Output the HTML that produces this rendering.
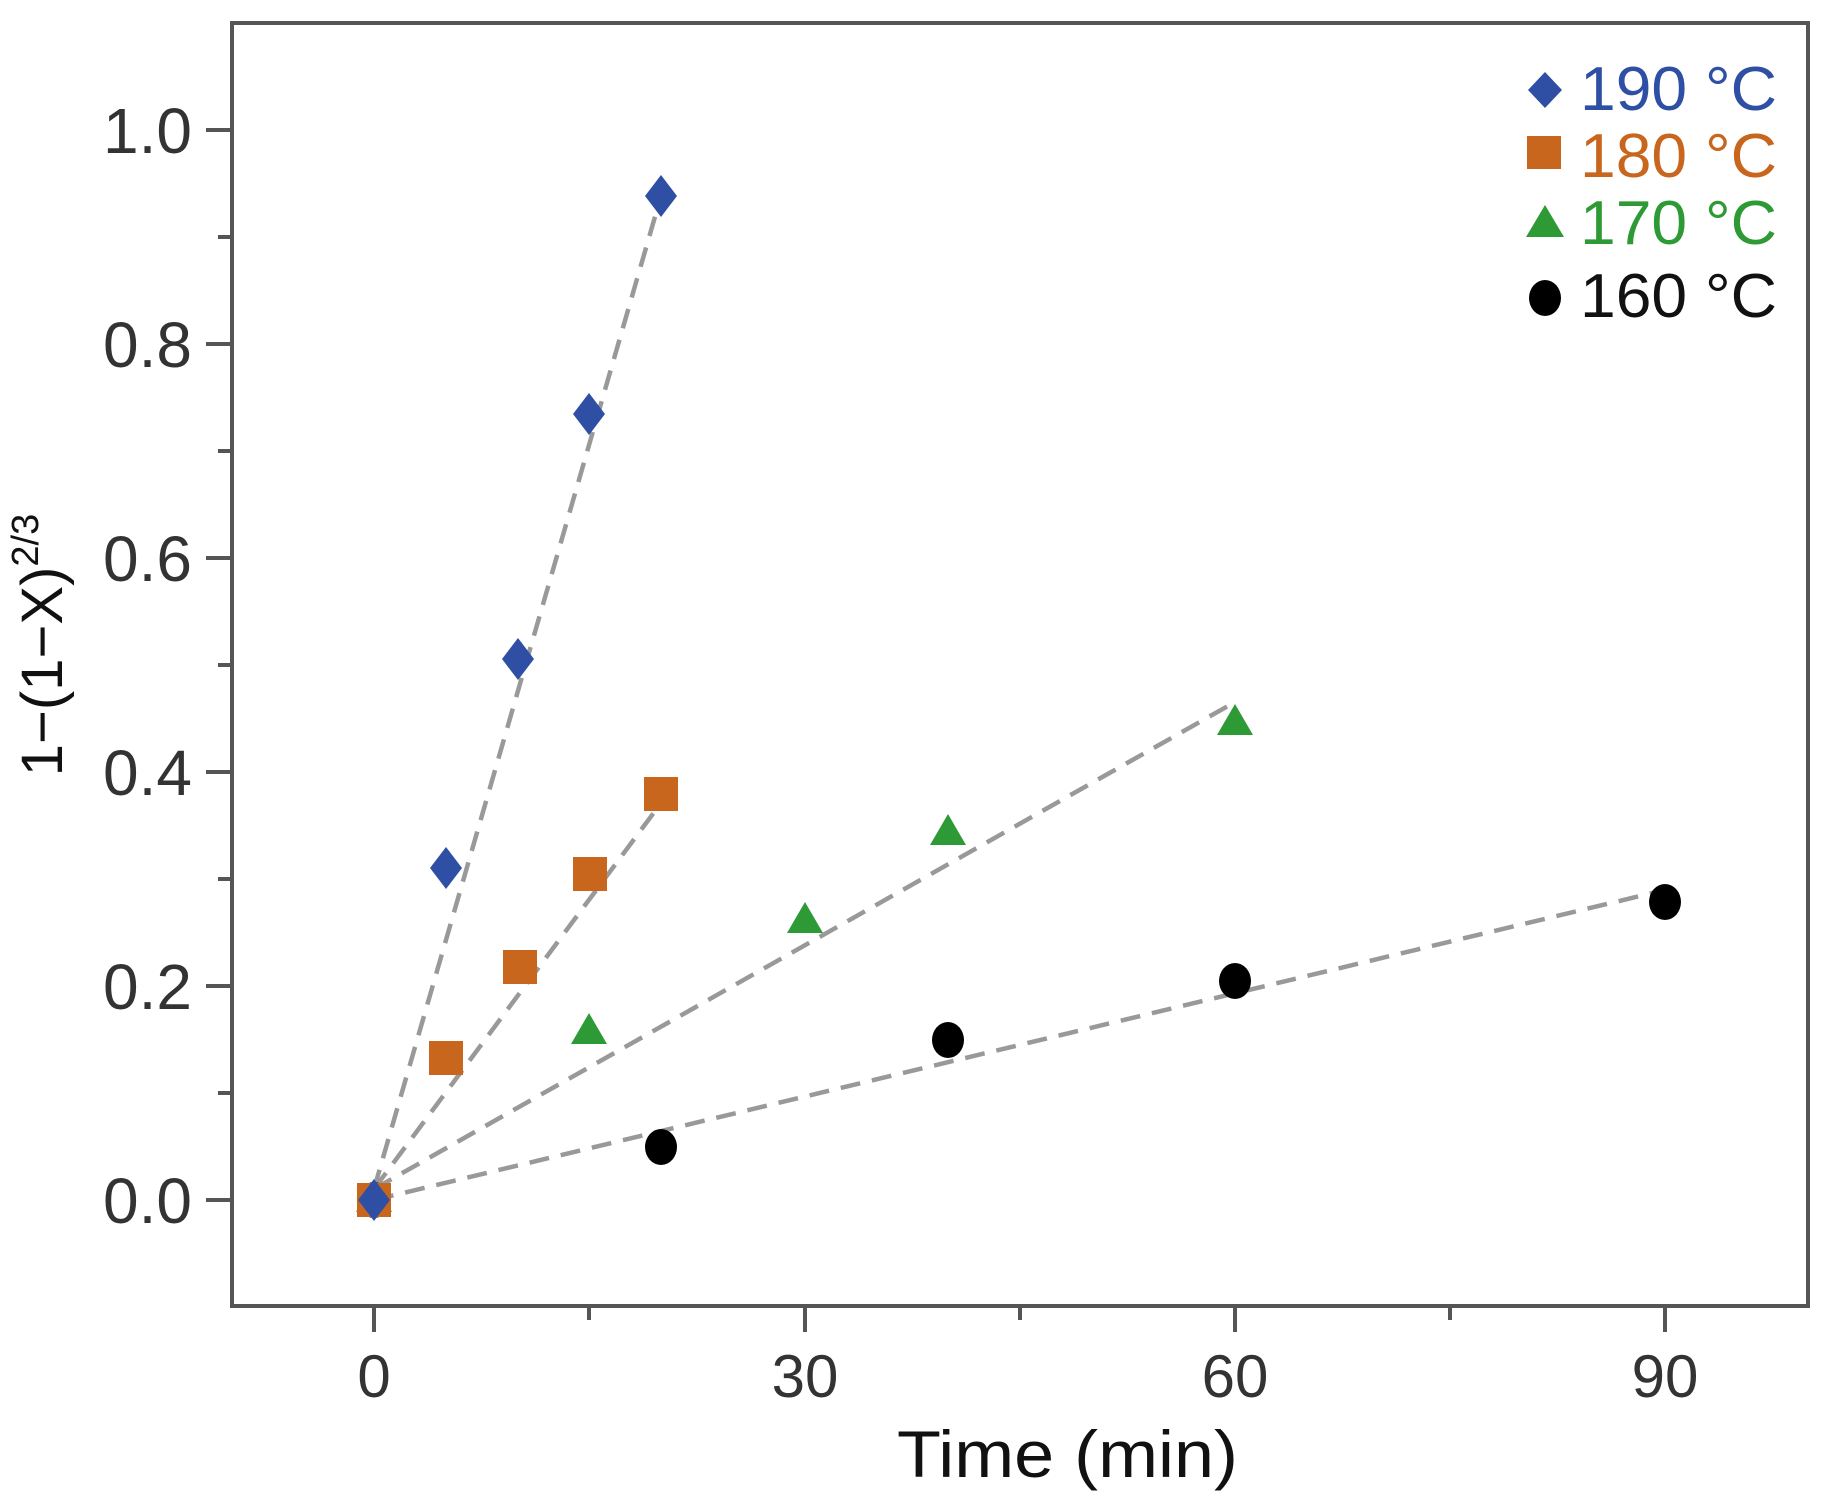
<!DOCTYPE html>
<html><head><meta charset="utf-8"><style>html,body{margin:0;padding:0;background:#fff}svg{display:block}</style></head>
<body>
<svg width="1829" height="1508" viewBox="0 0 1829 1508" xmlns="http://www.w3.org/2000/svg" font-family="Liberation Sans, Arial, sans-serif">
<rect width="1829" height="1508" fill="#fff"/>
<rect x="232" y="23" width="1576" height="1283" fill="none" stroke="#555" stroke-width="4"/>
<g stroke="#555" stroke-width="4">
<line x1="206" y1="130" x2="232" y2="130"/><line x1="206" y1="344" x2="232" y2="344"/><line x1="206" y1="558" x2="232" y2="558"/><line x1="206" y1="772" x2="232" y2="772"/><line x1="206" y1="986" x2="232" y2="986"/><line x1="206" y1="1200" x2="232" y2="1200"/>
<line x1="218" y1="237" x2="232" y2="237"/><line x1="218" y1="451" x2="232" y2="451"/><line x1="218" y1="665" x2="232" y2="665"/><line x1="218" y1="879" x2="232" y2="879"/><line x1="218" y1="1093" x2="232" y2="1093"/>
<line x1="374" y1="1306" x2="374" y2="1332"/><line x1="805" y1="1306" x2="805" y2="1332"/><line x1="1235" y1="1306" x2="1235" y2="1332"/><line x1="1665" y1="1306" x2="1665" y2="1332"/>
<line x1="589" y1="1306" x2="589" y2="1320"/><line x1="1020" y1="1306" x2="1020" y2="1320"/><line x1="1450" y1="1306" x2="1450" y2="1320"/>
</g>
<g fill="#333" font-size="64" text-anchor="end">
<text x="192" y="153">1.0</text><text x="192" y="367">0.8</text><text x="192" y="581">0.6</text><text x="192" y="795">0.4</text><text x="192" y="1009">0.2</text><text x="192" y="1223">0.0</text>
</g>
<g fill="#333" font-size="60" text-anchor="middle">
<text x="374" y="1397">0</text><text x="805" y="1397">30</text><text x="1235" y="1397">60</text><text x="1665" y="1397">90</text>
</g>
<text x="897" y="1477" font-size="66" fill="#111" textLength="341" lengthAdjust="spacingAndGlyphs">Time (min)</text>
<text transform="translate(62,645) rotate(-90)" text-anchor="middle" font-size="58" fill="#111">1−(1−X)<tspan font-size="38" dy="-24">2/3</tspan></text>
<g stroke="#999" stroke-width="4.5" stroke-dasharray="20,12" fill="none">
<line x1="374" y1="1189" x2="661" y2="196"/>
<line x1="374" y1="1189" x2="661" y2="803"/>
<line x1="374" y1="1189" x2="1235" y2="702"/>
<line x1="374" y1="1200" x2="1665" y2="890"/>
</g>
<g fill="#000">
<ellipse cx="374" cy="1200" rx="16" ry="18"/><ellipse cx="661" cy="1147" rx="16" ry="18"/><ellipse cx="948" cy="1040" rx="16" ry="18"/><ellipse cx="1235" cy="981" rx="16" ry="18"/><ellipse cx="1665" cy="902" rx="16" ry="18"/>
</g>
<g fill="#2e9a35">
<path d="M374 1181 l18 31 h-36z"/><path d="M589 1013 l18 31 h-36z"/><path d="M805 902 l18 31 h-36z"/><path d="M948 814 l18 31 h-36z"/><path d="M1235 704 l18 31 h-36z"/>
</g>
<g fill="#c8661e">
<rect x="357" y="1183" width="34" height="34"/><rect x="429" y="1041" width="34" height="34"/><rect x="503" y="950" width="34" height="34"/><rect x="573" y="857" width="34" height="34"/><rect x="644" y="777" width="34" height="34"/>
</g>
<g fill="#2e4fa3">
<path d="M374 1179 l16 21 l-16 21 l-16 -21z"/><path d="M446 847 l16 21 l-16 21 l-16 -21z"/><path d="M518 638 l16 21 l-16 21 l-16 -21z"/><path d="M589 393 l16 21 l-16 21 l-16 -21z"/><path d="M661 175 l16 21 l-16 21 l-16 -21z"/>
</g>
<path d="M1545 72 l17 18 l-17 18 l-17 -18z" fill="#2e4fa3"/>
<rect x="1527" y="136" width="34" height="33" fill="#c8661e"/>
<path d="M1545 205 l19 32 h-38z" fill="#2e9a35"/>
<ellipse cx="1545" cy="298" rx="16" ry="18" fill="#000"/>
<g font-size="62">
<text x="1580" y="110" fill="#2e4fa3" textLength="197" lengthAdjust="spacingAndGlyphs">190 °C</text>
<text x="1580" y="177" fill="#c8661e" textLength="197" lengthAdjust="spacingAndGlyphs">180 °C</text>
<text x="1580" y="244" fill="#2e9a35" textLength="197" lengthAdjust="spacingAndGlyphs">170 °C</text>
<text x="1580" y="317" fill="#111" textLength="197" lengthAdjust="spacingAndGlyphs">160 °C</text>
</g>
</svg>
</body></html>
